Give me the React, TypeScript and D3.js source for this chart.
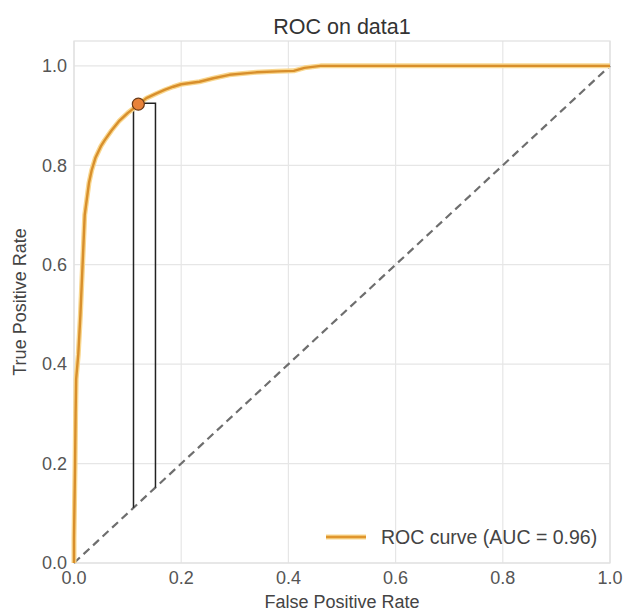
import React, { useEffect, useRef } from 'react';
import * as d3 from 'd3';

// ROC curve points (false positive rate, true positive rate)
const fprValues = [0, 0, 0.002, 0.003, 0.004, 0.008, 0.012, 0.016, 0.02, 0.028, 0.033, 0.04, 0.05, 0.057, 0.07, 0.085, 0.1, 0.12, 0.135, 0.153, 0.17, 0.185, 0.2, 0.234, 0.26, 0.29, 0.34, 0.38, 0.41, 0.43, 0.46, 1.0];
const tprValues = [0, 0.05, 0.2, 0.3, 0.37, 0.42, 0.5, 0.6, 0.7, 0.765, 0.79, 0.815, 0.838, 0.85, 0.87, 0.89, 0.905, 0.922, 0.935, 0.944, 0.952, 0.958, 0.963, 0.968, 0.975, 0.982, 0.987, 0.989, 0.99, 0.996, 1.0, 1.0];

// chosen operating point and the bracket drawn around it
const pointFpr = 0.12;
const pointTpr = 0.923;
const bracketFpr = [0.111, 0.152];
const bracketTpr = 0.925;

const tickValues = [0, 0.2, 0.4, 0.6, 0.8, 1.0];
const chartTitle = 'ROC on data1';
const legendLabel = 'ROC curve (AUC = 0.96)';

const FONT = '"Liberation Sans", Arial, sans-serif';

const App = () => {
  const svgRef = useRef<SVGSVGElement | null>(null);

  useEffect(() => {
    if (!svgRef.current) return;
    document.body.style.margin = '0';

    const root = d3.select(svgRef.current);
    root.selectAll('*').remove();

    const margin = { top: 41, right: 15, bottom: 48, left: 74 };
    const W = 625;
    const H = 611;
    const width = W - margin.left - margin.right;
    const height = H - margin.top - margin.bottom;

    root.append('rect').attr('width', W).attr('height', H).attr('fill', '#fff');

    const svg = root.append('g')
      .attr('transform', `translate(${margin.left},${margin.top})`);

    const x = d3.scaleLinear().domain([0, 1]).range([0, width]);
    const y = d3.scaleLinear().domain([0, 1.05]).range([height, 0]);

    // grid
    svg.append('g')
      .selectAll('line')
      .data(tickValues)
      .enter()
      .append('line')
      .attr('x1', d => x(d)).attr('x2', d => x(d))
      .attr('y1', 0).attr('y2', height)
      .attr('stroke', '#e6e6e6').attr('stroke-width', 1.2);

    svg.append('g')
      .selectAll('line')
      .data(tickValues)
      .enter()
      .append('line')
      .attr('x1', 0).attr('x2', width)
      .attr('y1', d => y(d)).attr('y2', d => y(d))
      .attr('stroke', '#e6e6e6').attr('stroke-width', 1.2);

    // frame
    svg.append('rect')
      .attr('width', width).attr('height', height)
      .attr('fill', 'none')
      .attr('stroke', '#e0e0e0').attr('stroke-width', 1.2);

    // chance line
    svg.append('line')
      .attr('x1', x(0)).attr('y1', y(0))
      .attr('x2', x(1)).attr('y2', y(1))
      .attr('stroke', '#6e6e6e')
      .attr('stroke-width', 2.2)
      .attr('stroke-dasharray', '8,5');

    // bracket
    const bracket: [number, number][] = [
      [bracketFpr[0], bracketFpr[0]],
      [bracketFpr[0], bracketTpr],
      [bracketFpr[1], bracketTpr],
      [bracketFpr[1], bracketFpr[1]],
    ];
    svg.append('path')
      .datum(bracket)
      .attr('fill', 'none')
      .attr('stroke', '#222')
      .attr('stroke-width', 1.5)
      .attr('d', d3.line<[number, number]>().x(d => x(d[0])).y(d => y(d[1])));

    // ROC curve
    const rocData = fprValues.map((f, i) => ({ fpr: f, tpr: tprValues[i] }));
    const rocLine = d3.line<{ fpr: number; tpr: number }>()
      .x(d => x(d.fpr))
      .y(d => y(d.tpr));

    svg.append('path')
      .datum(rocData)
      .attr('fill', 'none')
      .attr('stroke', '#f9d78f')
      .attr('stroke-width', 5)
      .attr('stroke-linejoin', 'round')
      .attr('d', rocLine);

    svg.append('path')
      .datum(rocData)
      .attr('fill', 'none')
      .attr('stroke', '#d88f2c')
      .attr('stroke-width', 2.4)
      .attr('stroke-linejoin', 'round')
      .attr('d', rocLine);

    // operating point
    svg.append('circle')
      .attr('cx', x(pointFpr))
      .attr('cy', y(pointTpr))
      .attr('r', 6)
      .attr('fill', '#e8823a')
      .attr('stroke', '#6b3a17')
      .attr('stroke-width', 1.2);

    // tick labels
    svg.append('g')
      .selectAll('text')
      .data(tickValues)
      .enter()
      .append('text')
      .attr('x', d => x(d))
      .attr('y', height + 21)
      .attr('text-anchor', 'middle')
      .attr('fill', '#555')
      .attr('font-family', FONT)
      .attr('font-size', 18)
      .text(d => d3.format('.1f')(d));

    svg.append('g')
      .selectAll('text')
      .data(tickValues)
      .enter()
      .append('text')
      .attr('x', -7)
      .attr('y', d => y(d))
      .attr('dy', '0.35em')
      .attr('text-anchor', 'end')
      .attr('fill', '#555')
      .attr('font-family', FONT)
      .attr('font-size', 18)
      .text(d => d3.format('.1f')(d));

    // axis labels
    svg.append('text')
      .attr('x', width / 2)
      .attr('y', height + 45)
      .attr('text-anchor', 'middle')
      .attr('fill', '#444')
      .attr('font-family', FONT)
      .attr('font-size', 18)
      .text('False Positive Rate');

    svg.append('text')
      .attr('transform', 'rotate(-90)')
      .attr('x', -height / 2)
      .attr('y', -48)
      .attr('text-anchor', 'middle')
      .attr('fill', '#444')
      .attr('font-family', FONT)
      .attr('font-size', 18)
      .text('True Positive Rate');

    // title
    svg.append('text')
      .attr('x', width / 2)
      .attr('y', -7)
      .attr('text-anchor', 'middle')
      .attr('fill', '#333')
      .attr('font-family', FONT)
      .attr('font-size', 21.5)
      .text(chartTitle);

    // legend
    const legend = svg.append('g')
      .attr('transform', `translate(${width - 284}, ${height - 26})`);
    legend.append('line')
      .attr('x1', 0).attr('x2', 40)
      .attr('y1', 0).attr('y2', 0)
      .attr('stroke', '#f9d78f').attr('stroke-width', 5);
    legend.append('line')
      .attr('x1', 0).attr('x2', 40)
      .attr('y1', 0).attr('y2', 0)
      .attr('stroke', '#e0962e').attr('stroke-width', 2.4);
    legend.append('text')
      .attr('x', 55)
      .attr('y', 0)
      .attr('dy', '0.35em')
      .attr('fill', '#444')
      .attr('font-family', FONT)
      .attr('font-size', 19.5)
      .text(legendLabel);
  }, []);

  return (
    <svg
      ref={svgRef}
      width={625}
      height={611}
      style={{ display: 'block' }}
    />
  );
};

export default App;
